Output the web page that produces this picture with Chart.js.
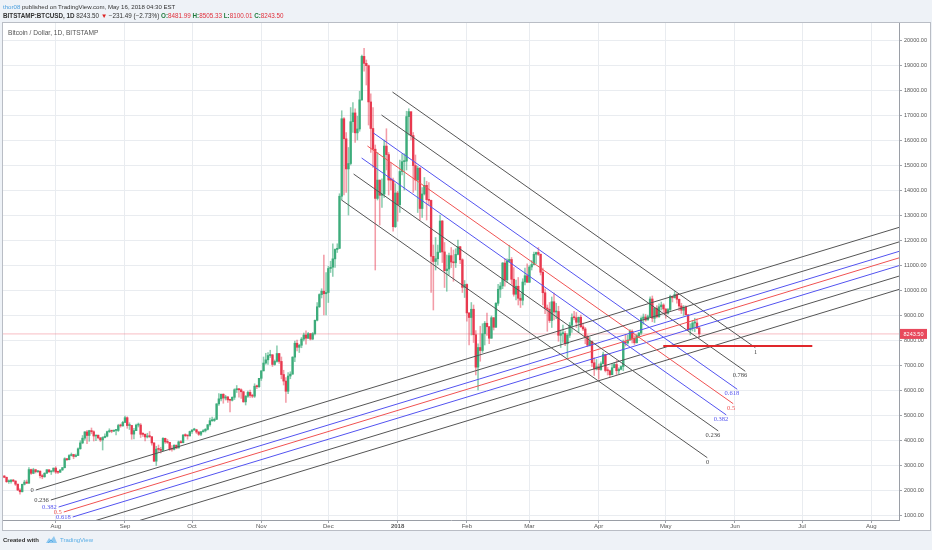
<!DOCTYPE html>
<html><head><meta charset="utf-8">
<script src="https://cdn.jsdelivr.net/npm/chart.js@4.4.1/dist/chart.umd.min.js"></script>
<style>
html,body{margin:0;padding:0;width:932px;height:550px;overflow:hidden;background:#eef2f7;font-family:"Liberation Sans",Arial,sans-serif;}
#frame{position:absolute;left:2px;top:22px;width:927px;height:507px;background:#fff;border:1px solid #b9bdc5;}
#c{position:absolute;left:0;top:0;}
.t{position:absolute;white-space:nowrap;font-size:6px;color:#333;}
.g{color:#1f7a3c;font-weight:bold;}
.r{color:#e0303c;}
</style></head>
<body>
<div id="frame"></div>
<canvas id="c" width="932" height="550"></canvas>
<div class="t" style="left:3px;top:3px;font-size:6.1px;"><span style="color:#4b9fde">thor08</span> published on TradingView.com, May 16, 2018 04:30 EST</div>
<div class="t" style="left:3px;top:12px;font-size:6.3px;"><b>BITSTAMP:BTCUSD, 1D</b> 8243.50 <span style="color:#d22">&#9660;</span> &minus;231.49 (&minus;2.73%) <span class="g">O:</span><span class="r">8481.99</span> <span class="g">H:</span><span class="r">8505.33</span> <span class="g">L:</span><span class="r">8100.01</span> <span class="g">C:</span><span class="r">8243.50</span></div>
<div class="t" style="left:8px;top:29px;color:#555;font-size:6.6px;">Bitcoin / Dollar, 1D, BITSTAMP</div>
<div class="t" style="left:3px;top:537px;font-weight:bold;color:#333;">Created with</div>
<svg style="position:absolute;left:45px;top:535px" width="13" height="9" viewBox="0 0 13 9"><path d="M1 8 L4 3 L6 5 L9 1 L12 8 Z" fill="#8fc8ef"/><path d="M3 8 L6 5 L8 7" stroke="#5aaee6" fill="none"/></svg>
<div class="t" style="left:60px;top:537px;color:#5aaee6;">TradingView</div>
<script>
// ---- data ----
const firstDay = -23; // Jul 9 2017, days relative to Aug 1 2017 (daily candles)
const opens = [
2560,2506,2332,2337,2398,2357,2233,1998,1929,2228,2318,2273,2817,2667,2810,2730,2754,2576,2529,2671,2809,2726,2758,
2875,2718,2710,2805,2895,3252,3213,3379,3419,3342,3381,3650,3884,4073,4325,4181,4376,4331,4160,4193,4087,4001,4100,4151,4334,4371,4352,4382,4382,4579,4565,
4703,4892,4578,4582,4236,4376,4597,4599,4228,4226,4122,4161,4131,3882,3154,3637,3625,3582,4065,3924,3905,3631,3630,3792,3682,3926,3892,4200,4174,4163,
4338,4403,4409,4317,4229,4328,4370,4426,4611,4773,4781,4826,5446,5647,5831,5678,5725,5605,5590,5708,6011,6031,6008,5930,5526,5750,5904,5780,5753,6153,6130,
6468,6767,7078,7207,7379,7407,7022,7144,7459,7143,6618,6357,5950,6559,6635,7315,7871,7708,7790,8036,8200,8071,8253,8038,8253,8790,9330,9818,9950,9850,
9900,10860,10912,11246,11623,11667,13750,16850,16048,14843,15059,16732,17083,16286,16441,17607,19345,19065,18972,17523,16461,15632,13664,14396,13789,13833,15757,15416,14398,14392,12531,
13880,13412,14740,15134,15155,16937,17135,16178,14976,14400,14874,13261,13842,14188,13616,13585,11348,11141,11250,11514,12760,11524,10772,10838,11375,11118,11089,11424,11731,11209,10107,
10221,9083,8900,9230,8210,6914,7700,7580,8250,8670,8530,8070,8890,8510,9470,10030,10160,11080,10400,11150,11220,10430,9830,10150,9670,9590,10320,10570,
10310,10920,11020,11430,11500,11430,10710,9890,9280,9230,8780,9530,9120,9140,8190,8250,8260,7850,8190,8590,8900,8890,8710,8910,8530,8440,8140,7790,7940,7090,6840,
6930,6820,7050,7420,6780,6770,6610,6890,7020,6770,6830,6940,7920,7880,8000,8350,8060,7890,8170,8280,8860,8920,8800,8930,9640,8870,9270,8930,9330,9400,
9240,9070,9220,9740,9690,9820,9630,9360,9190,9310,9010,8410,8470,8680,8680,8481.99
];
const highs = [
2580,2520,2410,2420,2425,2370,2240,2060,2240,2390,2400,2900,2840,2870,2830,2780,2770,2620,2690,2820,2810,2770,2880,
2930,2760,2810,2900,3290,3270,3420,3480,3430,3440,3690,3970,4180,4330,4390,4390,4480,4370,4190,4200,4100,4130,4250,4360,4450,4370,4400,4400,4630,4640,4750,
4960,4930,4690,4590,4470,4640,4680,4660,4300,4250,4270,4340,4140,3900,3750,3800,3710,4100,4080,4030,3910,3780,3810,3800,3960,3980,4220,4250,4190,4360,
4410,4470,4430,4350,4350,4420,4460,4620,4880,4920,4880,5450,5860,5840,5850,5790,5740,5610,5730,6050,6180,6070,6050,5940,5780,5960,6000,5830,6250,6200,6470,
6770,7320,7470,7500,7590,7420,7200,7770,7470,7320,6790,6500,6700,6730,7330,7960,8000,7830,8100,8280,8370,8300,8270,8300,8800,9500,9850,10050,11400,10700,
10950,11150,11850,11650,11850,13850,17170,16900,16300,15700,17300,17500,17250,16950,17950,19400,19666,19200,19000,17850,17300,15800,15500,14400,14450,16000,16450,15500,15100,14480,14250,
13950,15200,15450,15450,17150,17250,17100,16300,15400,14950,14900,14100,14500,14350,14300,13600,11800,12100,11800,13000,12780,11900,11400,11480,11700,11600,11650,12000,11750,11250,10380,
10250,9100,9500,9400,8380,7850,8550,8650,8740,9080,8550,8960,8900,9500,10230,10300,11100,11250,11250,11790,11300,10900,10400,10500,9850,10450,10880,11050,
10980,11180,11520,11520,11700,11440,10880,10050,9400,9500,9720,9880,9470,9350,8400,8600,8350,8250,8700,9050,9150,9100,8920,9000,8680,8500,8200,8100,7970,7290,7220,
7040,7130,7520,7430,6900,6800,7070,7100,7180,6890,6970,8000,8230,8190,8420,8410,8170,8220,8300,8930,9040,9030,9000,9730,9760,9300,9380,9450,9520,9450,
9250,9270,9800,9760,9940,9860,9640,9470,9380,9370,9020,8650,8780,8870,8850,8505.33
];
const lows = [
2490,2300,2260,2270,2330,2180,1980,1830,1920,2200,2260,2260,2620,2650,2680,2700,2480,2450,2510,2660,2700,2620,2720,
2660,2650,2700,2780,2880,3170,3200,3360,3250,3320,3370,3630,3850,3990,3850,3950,4250,3960,3970,4040,3940,3600,4080,4120,4300,4290,4330,4200,4340,4510,4550,
4690,4470,4420,4030,4040,4370,4520,4100,4140,3960,4080,4100,3790,3130,2980,3520,3480,3580,3860,3860,3580,3550,3600,3650,3680,3870,3880,4130,4030,4160,
4260,4380,4260,4180,4170,4320,4320,4400,4550,4740,4740,4820,5380,5560,5470,5600,5500,5120,5560,5620,5900,5710,5660,5510,5400,5700,5700,5690,5700,6050,6100,
6380,6760,7030,7020,7300,6940,6990,7110,7060,6450,6200,5500,5850,6450,6630,7130,7560,7500,7690,7960,7830,8060,8000,8010,8200,8760,9300,9680,9000,9000,
9500,10700,10540,10900,11500,11650,13600,13800,13900,13000,15000,16300,15900,16000,16350,17580,18750,18200,16600,15500,14900,10800,13600,12600,13300,13700,14800,13800,14000,12350,12500,
12750,13100,14600,14000,14800,16200,16000,13900,14000,13100,12800,12900,13800,12800,13400,9900,9200,10800,11000,11500,11100,10100,9950,10600,10900,10350,10900,11400,11050,9900,9700,
8750,7800,8200,7900,6600,6000,7150,7500,7800,8180,7850,8070,8400,8500,9380,9700,10050,10150,10300,11100,10230,9750,9600,9400,9300,9400,10200,10300,
10300,10800,11000,11050,11380,10600,9400,9050,8350,8700,8500,8800,8850,7950,7700,7900,7770,7300,8100,8300,8800,8500,8300,8500,8370,7850,7730,7760,6930,6580,6800,
6430,6780,7040,6720,6600,6520,6610,6890,6620,6650,6800,6770,7760,7830,7990,7880,7820,7880,8090,8220,8630,8750,8800,8920,8730,8700,8880,8900,9200,9100,
8870,9030,9160,9520,9680,9470,9170,9060,8980,9000,8370,8200,8360,8330,8450,8100.01
];
const closes = [
2506,2332,2337,2398,2357,2233,1998,1929,2228,2318,2273,2817,2667,2810,2730,2754,2576,2529,2671,2809,2726,2758,2875,
2718,2710,2805,2895,3252,3213,3379,3419,3342,3381,3650,3884,4073,4325,4181,4376,4331,4160,4193,4087,4001,4100,4151,4334,4371,4352,4382,4382,4579,4565,4703,
4892,4578,4582,4236,4376,4597,4599,4228,4226,4122,4161,4131,3882,3154,3637,3625,3582,4065,3924,3905,3631,3630,3792,3682,3926,3892,4200,4174,4163,4338,
4403,4409,4317,4229,4328,4370,4426,4611,4773,4781,4826,5446,5647,5831,5678,5725,5605,5590,5708,6011,6031,6008,5930,5526,5750,5904,5780,5753,6153,6130,6468,
6767,7078,7207,7379,7407,7022,7144,7459,7143,6618,6357,5950,6559,6635,7315,7871,7708,7790,8036,8200,8071,8253,8038,8253,8790,9330,9818,9950,9850,9900,
10860,10912,11246,11623,11667,13750,16850,16048,14843,15059,16732,17083,16286,16441,17607,19345,19065,18972,17523,16461,15632,13664,14396,13789,13833,15757,15416,14398,14392,12531,13880,
13412,14740,15134,15155,16937,17135,16178,14976,14400,14874,13261,13842,14188,13616,13585,11348,11141,11250,11514,12760,11524,10772,10838,11375,11118,11089,11424,11731,11209,10107,10221,
9083,8900,9230,8210,6914,7700,7580,8250,8670,8530,8070,8890,8510,9470,10030,10160,11080,10400,11150,11220,10430,9830,10150,9670,9590,10320,10570,10310,
10920,11020,11430,11500,11430,10710,9890,9280,9230,8780,9530,9120,9140,8190,8250,8260,7850,8190,8590,8900,8890,8710,8910,8530,8440,8140,7790,7940,7090,6840,6930,
6820,7050,7420,6780,6770,6610,6890,7020,6770,6830,6940,7920,7880,8000,8350,8060,7890,8170,8280,8860,8920,8800,8930,9640,8870,9270,8930,9330,9400,9240,
9070,9220,9740,9690,9820,9630,9360,9190,9310,9010,8410,8470,8680,8680,8475,8243.5
];
const lastPrice = 8243.5;

// tick labels (x in days relative to Aug 1 2017)
const monthTickDays = [0,31,61,92,122,153,184,212,243,273,304,334,365];
const monthLabels = ['Aug','Sep','Oct','Nov','Dec','2018','Feb','Mar','Apr','May','Jun','Jul','Aug'];
const yTicks = [1000,2000,3000,4000,5000,6000,7000,8000,9000,10000,11000,12000,13000,14000,15000,16000,17000,18000,19000,20000];

// Fibonacci channels
const fibLevels = ['0','0.236','0.382','0.5','0.618','0.786','1'];
const fibColors = ['#555555','#555555','#5353f0','#f05252','#5353f0','#555555','#555555'];
const ascStartDay = [-8.9,-2.2,1.3,3.6,7.6,11.2,15.7];
const ascStartPrice = [2000,1600,1320,1120,920,598,188];
const ascEndDay = [380,380,380,380,380,380,380];
const ascEndPrice = [12575,11993,11616,11355,11046,10626,10095];
const descStartDay = [127.9,133.3,136.9,139.5,142.2,145.8,150.7];
const descStartPrice = [13600,14640,15280,15760,16280,17000,17920];
const descEndDay = [291.6,296.5,300.1,303.2,305.0,308.6,313.1];
const descEndPrice = [3292,4363,5003,5452,6029,6749,7694];
// horizontal support
const supportDays = [271.9,338.6];
const supportPrice = 7760;

const xMin = -23.6, xMax = 377.4, yMin = 800, yMax = 20680;

// ---- build ----
const days = closes.map((_, i) => firstDay + i);
const up = closes.map((c, i) => c >= opens[i]);
const bodyColors = up.map(u => u ? '#3dac7b' : '#e8394f');
const wickColors = up.map(u => u ? 'rgba(61,172,123,0.6)' : 'rgba(232,57,79,0.5)');

const datasets = [];
datasets.push({type:'bar', data: days.map((d,i)=>({x:d, y:[lows[i], highs[i]]})), backgroundColor: wickColors, barThickness: 0.9, grouped:false, order: 11});
datasets.push({type:'bar', data: days.map((d,i)=>({x:d, y:[opens[i], closes[i]]})), backgroundColor: bodyColors, barThickness: 1.7, minBarLength: 1, grouped:false, order: 10});
datasets.push({type:'line', data:[{x:xMin,y:lastPrice},{x:xMax,y:lastPrice}], borderColor:'rgba(240,110,125,0.45)', borderWidth:1, pointRadius:0, order: 30});
fibLevels.forEach((lv, i) => {
  datasets.push({type:'line', data:[{x:ascStartDay[i], y:ascStartPrice[i]},{x:ascEndDay[i], y:ascEndPrice[i]}], borderColor: fibColors[i], borderWidth:1, pointRadius:0, order:2});
  datasets.push({type:'line', data:[{x:descStartDay[i], y:descStartPrice[i]},{x:descEndDay[i], y:descEndPrice[i]}], borderColor: fibColors[i], borderWidth:1, pointRadius:0, order:2});
});
datasets.push({type:'line', data:[{x:supportDays[0], y:supportPrice},{x:supportDays[1], y:supportPrice}], borderColor:'#e0272b', borderWidth:2, pointRadius:0, order:1});

const labelPlugin = {
  id:'fibLabels',
  afterDatasetsDraw(chart){
    const {ctx, chartArea:a, scales:{x, y}} = chart;
    ctx.save();
    ctx.beginPath(); ctx.rect(a.left, a.top, a.right - a.left, a.bottom - a.top); ctx.clip();
    ctx.font = '6.5px "Liberation Serif", serif';
    fibLevels.forEach((lv, i) => {
      ctx.fillStyle = fibColors[i] === '#555555' ? '#444' : fibColors[i];
      ctx.textAlign = 'right'; ctx.textBaseline = 'middle';
      ctx.fillText(lv, x.getPixelForValue(ascStartDay[i]) - 2, y.getPixelForValue(ascStartPrice[i]));
      ctx.textBaseline = 'top';
      ctx.fillText(lv, x.getPixelForValue(descEndDay[i]) + 2, y.getPixelForValue(descEndPrice[i]) + 1);
    });
    ctx.restore();
  },
  afterDraw(chart){
    const {ctx, chartArea:a, scales:{y}} = chart;
    const py = y.getPixelForValue(lastPrice);
    ctx.save();
    ctx.fillStyle = '#e8495c';
    ctx.fillRect(a.right + 1, py - 5, 27, 10);
    ctx.fillStyle = '#fff';
    ctx.font = '5.5px "Liberation Sans", Arial';
    ctx.textAlign = 'center'; ctx.textBaseline = 'middle';
    ctx.fillText(lastPrice.toFixed(2), a.right + 14.5, py + 0.5);
    ctx.restore();
  }
};

new Chart(document.getElementById('c'), {
  type:'bar',
  data:{datasets},
  options:{
    responsive:false, animation:false, devicePixelRatio:1,
    layout:{padding:{left:3, top:23, right:0, bottom:0}},
    plugins:{legend:{display:false}, tooltip:{enabled:false}},
    scales:{
      x:{type:'linear', min:xMin, max:xMax, offset:false,
        grid:{color:'#e9ecf0', offset:false, tickLength:3, tickColor:'#a0a4aa'},
        border:{display:true, color:'#9a9ea6'},
        ticks:{autoSkip:false, maxRotation:0, padding:0, color:'#555',
          font:(c)=>({family:'"Liberation Sans", Arial', size:6, weight: c.index === 5 ? 'bold' : 'normal'}),
          callback:(v, i)=> monthLabels[i]},
        afterBuildTicks:(s)=>{ s.ticks = monthTickDays.map(v=>({value:v})); },
        afterFit:(s)=>{ s.height = 30; }
      },
      y:{type:'linear', position:'right', min:yMin, max:yMax,
        grid:{color:'#e9ecf0', tickLength:3, tickColor:'#a0a4aa'},
        border:{display:true, color:'#9a9ea6'},
        ticks:{color:'#555', padding:2, font:{family:'"Liberation Sans", Arial', size:5.5}, callback:(v)=> Number(v).toFixed(2)},
        afterBuildTicks:(s)=>{ s.ticks = yTicks.map(v=>({value:v})); },
        afterFit:(s)=>{ s.width = 33; }
      }
    }
  },
  plugins:[labelPlugin]
});
</script>
</body></html>
